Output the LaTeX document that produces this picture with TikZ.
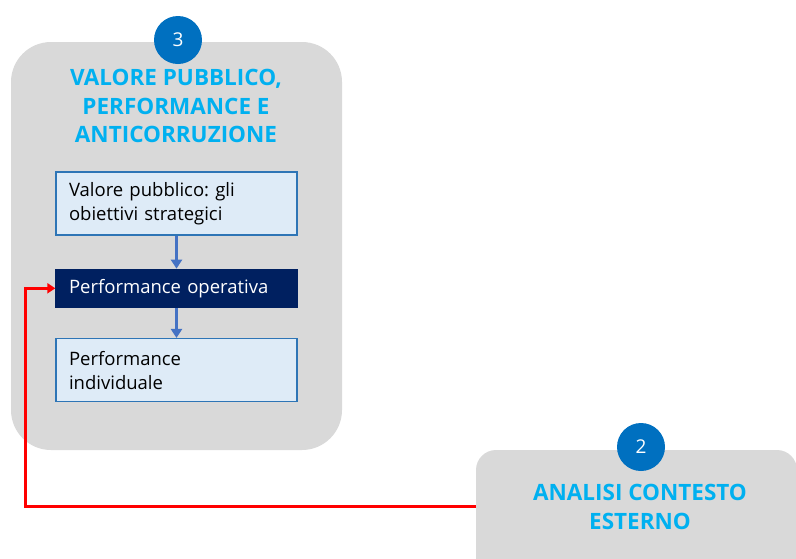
\documentclass[tikz,border=0pt]{standalone}
\usepackage{fontspec}
\setmainfont{Open Sans}
\frenchspacing
\usetikzlibrary{arrows.meta,positioning,calc}
\definecolor{panelgray}{HTML}{D9D9D9}
\definecolor{numblue}{HTML}{0070C0}
\definecolor{titlecyan}{HTML}{00B0F0}
\definecolor{boxfill}{HTML}{DEEBF7}
\definecolor{boxline}{HTML}{2E75B6}
\definecolor{navy}{HTML}{002060}
\definecolor{flowblue}{HTML}{4472C4}
\tikzstyle{panel}=[fill=panelgray,rounded corners=40pt,inner sep=0pt]
\tikzstyle{badge}=[circle,fill=numblue,text=white,minimum size=48pt,inner sep=0pt,font=\fontsize{19}{22}\selectfont]
\tikzstyle{heading}=[text=titlecyan,font=\bfseries\fontsize{22.5}{28.5}\selectfont,align=center]
\tikzstyle{stepbox}=[draw=boxline,fill=boxfill,line width=1.3pt,minimum width=241pt,text width=215pt,inner xsep=13pt,align=left,font=\fontsize{18.5}{24}\selectfont]
\tikzstyle{flow}=[flowblue,line width=3pt,-{Triangle[width=11pt,length=9pt]}]
\tikzstyle{feedback}=[red,line width=3pt,-{Triangle[width=10pt,length=8pt]}]

\begin{document}
\begin{tikzpicture}[x=1pt,y=-1pt]
  \useasboundingbox (0,0) rectangle (796,558);
  % panels
  \node [panel,minimum width=331pt,minimum height=408pt] (pub) at (176.5,246) {};
  \node [panel,rounded corners=20pt,minimum width=321pt,minimum height=160pt] (ctx) at (636.5,530) {};
  \node [badge] (n3) at (178,40) {3};
  \node [badge] (n2) at (641,447) {2};
  \node [heading] (pubtitle) at (176,106) {VALORE PUBBLICO,\\PERFORMANCE E\\ANTICORRUZIONE};
  \node [heading] (ctxtitle) at (640,507) {ANALISI CONTESTO\\ESTERNO};
  % steps
  \node [stepbox,minimum height=63pt] (strat) at (176.5,203.5) {Valore pubblico: gli\\obiettivi strategici};
  \node [stepbox,minimum height=38pt,fill=navy,draw=navy,text=white,below=33pt of strat] (oper) {Performance operativa};
  \node [stepbox,minimum height=63pt,below=30pt of oper] (indiv) {Performance\\individuale};
  \draw [flow] (strat) -- (oper);
  \draw [flow] (oper) -- (indiv);
  % feedback
  \coordinate (feed) at (476,506);
  \coordinate (turn) at (25,506);
  \draw [feedback] (feed) -- (turn) |- (oper.west);
\end{tikzpicture}
\end{document}
